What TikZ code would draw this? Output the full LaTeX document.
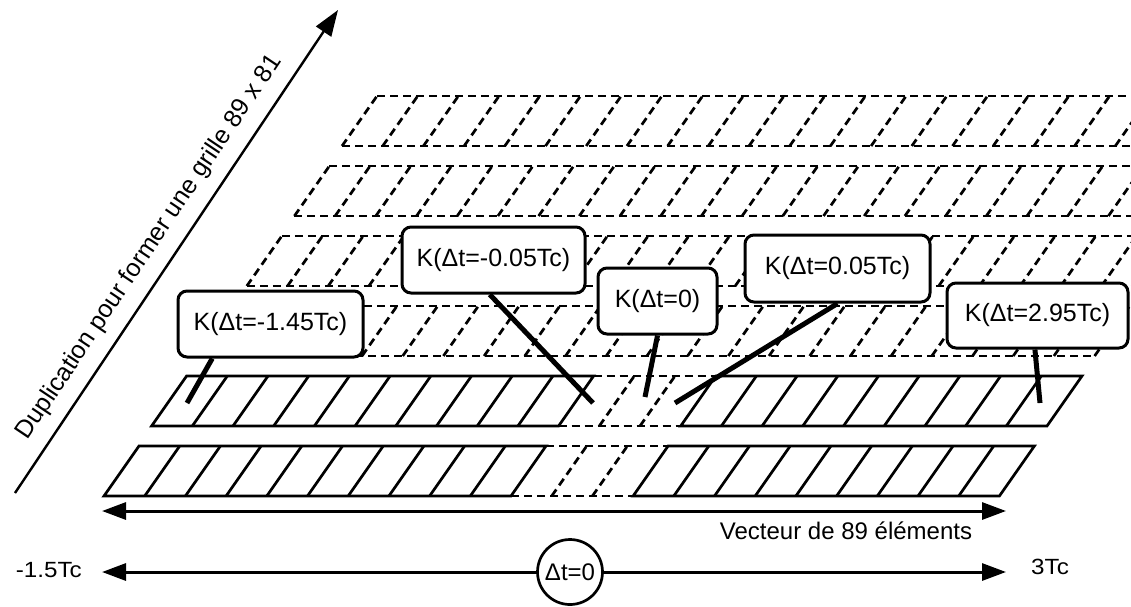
\documentclass[tikz,border=0pt]{standalone}
\usepackage{fontspec}
\setmainfont{Liberation Sans}
\usetikzlibrary{arrows.meta,calc}
\pgfdeclarelayer{gridlayer}
\pgfdeclarelayer{ptrlayer}
\pgfsetlayers{gridlayer,ptrlayer,main}
\begin{document}
\begin{tikzpicture}[x=1pt,y=-1pt,
  solidln/.style={line width=2.7pt, line join=miter},
  dashln/.style={line width=2.7pt, dash pattern=on 8pt off 5pt},
  kbox/.style={draw, line width=3pt, rounded corners=9pt, fill=white, inner sep=0pt, font=\fontsize{25}{30}\selectfont},
  pointer/.style={line width=5pt},
  arr/.style={line width=2.4pt, -{Triangle[length=26pt,width=18pt]}},
  darr/.style={line width=3pt, {Triangle[length=24pt,width=17pt]}-{Triangle[length=24pt,width=17pt]}},
  lbl/.style={font=\fontsize{24}{28}\selectfont, inner sep=0pt},
  slbl/.style={font=\fontsize{22}{26}\selectfont, inner sep=0pt}
]
\useasboundingbox (0,0) rectangle (1131,606);

% ---------- grid ----------
\begin{pgfonlayer}{gridlayer}
\begin{scope}
\clip (0,0) rectangle (1131,606);
\foreach \r in {2,...,5}{
  \pgfmathsetmacro\xa{104+47.6*\r}
  \pgfmathsetmacro\yb{496-70*\r}
  \pgfmathsetmacro\yt{\yb-50}
  \pgfmathsetmacro\xe{\xa+22*40.7}
  \draw[dashln] (\xa,\yb) -- (\xe,\yb);
  \draw[dashln] ({\xa+35},\yt) -- ({\xe+35},\yt);
  \foreach \i in {0,...,22}{
    \pgfmathsetmacro\xi{\xa+\i*40.7}
    \draw[dashln] (\xi,\yb) -- ({\xi+35},\yt);
  }
}
\foreach \r in {0,1}{
  \pgfmathsetmacro\xa{104+47.6*\r}
  \pgfmathsetmacro\yb{496-70*\r}
  \pgfmathsetmacro\yt{\yb-50}
  \pgfmathsetmacro\xb{\xa+10*40.7}
  \pgfmathsetmacro\xc{\xa+13*40.7}
  \pgfmathsetmacro\xe{\xa+22*40.7}
  \draw[solidln] (\xa,\yb) -- (\xb,\yb) -- ({\xb+35},\yt) -- ({\xa+35},\yt) -- cycle;
  \draw[solidln] (\xc,\yb) -- (\xe,\yb) -- ({\xe+35},\yt) -- ({\xc+35},\yt) -- cycle;
  \draw[dashln] (\xb,\yb) -- (\xc,\yb);
  \draw[dashln] ({\xb+35},\yt) -- ({\xc+35},\yt);
  \foreach \i in {1,...,9,14,15,...,21}{
    \pgfmathsetmacro\xi{\xa+\i*40.7}
    \draw[solidln] (\xi,\yb) -- ({\xi+35},\yt);
  }
  \foreach \i in {11,12}{
    \pgfmathsetmacro\xi{\xa+\i*40.7}
    \draw[dashln] (\xi,\yb) -- ({\xi+35},\yt);
  }
}
\end{scope}
\end{pgfonlayer}

% ---------- label boxes ----------
\node[kbox, minimum width=185pt, minimum height=66pt] (b1) at (270.5,324) {K(Δt=-1.45Tc)};
\node[kbox, minimum width=183pt, minimum height=66pt] (b2) at (493.5,260) {K(Δt=-0.05Tc)};
\node[kbox, minimum width=119pt, minimum height=66pt] (b3) at (657.5,301) {K(Δt=0)};
\node[kbox, minimum width=185pt, minimum height=67pt] (b4) at (837.5,268.5) {K(Δt=0.05Tc)};
\node[kbox, minimum width=181pt, minimum height=65pt] (b5) at (1037.5,315.5) {K(Δt=2.95Tc)};

\coordinate (p1) at (187,403);
\coordinate (p2) at (593,403);
\coordinate (p3) at (645,397);
\coordinate (p4) at (675,403);
\coordinate (p5) at (1040,403);

\begin{pgfonlayer}{ptrlayer}
\draw[pointer] ($(b1.south west)!0.19!(b1.south east)$) -- (p1);
\draw[pointer] ($(b2.south west)!0.48!(b2.south east)$) -- (p2);
\draw[pointer] ($(b3.south west)!0.5!(b3.south east)$) -- (p3);
\draw[pointer] ($(b4.south west)!0.5!(b4.south east)$) -- (p4);
\draw[pointer] ($(b5.south west)!0.486!(b5.south east)$) -- (p5);
\end{pgfonlayer}

% ---------- diagonal arrow ----------
\coordinate (d0) at (15,493);
\coordinate (d1) at (338,10);
\draw[arr] (d0) -- node[sloped, above=12pt, pos=0.48, inner sep=0pt, font=\fontsize{25}{30}\selectfont] (dup) {Duplication pour former une grille 89 x 81} (d1);

% ---------- vector arrow ----------
\coordinate (vl) at (102,511);
\coordinate (vr) at (1006,511);
\draw[darr] (vl) -- (vr);
\node[lbl, anchor=base] (vec) at (846,539) {Vecteur de 89 éléments};

% ---------- time axis ----------
\node[slbl, anchor=base east] (tmin) at (82,577) {\scalebox{1.1}[1]{-1.5Tc}};
\node[slbl, anchor=base west] (tmax) at (1031,574) {\scalebox{1.1}[1]{3Tc}};
\coordinate (al) at (102,572);
\coordinate (ar) at (1006,572);
\draw[darr] (al) -- (ar);
\node[circle, draw, line width=2.7pt, fill=white, minimum size=65pt, inner sep=0pt, font=\fontsize{24}{28}\selectfont] (dt) at (570,572) {Δt=0};
\end{tikzpicture}
\end{document}
